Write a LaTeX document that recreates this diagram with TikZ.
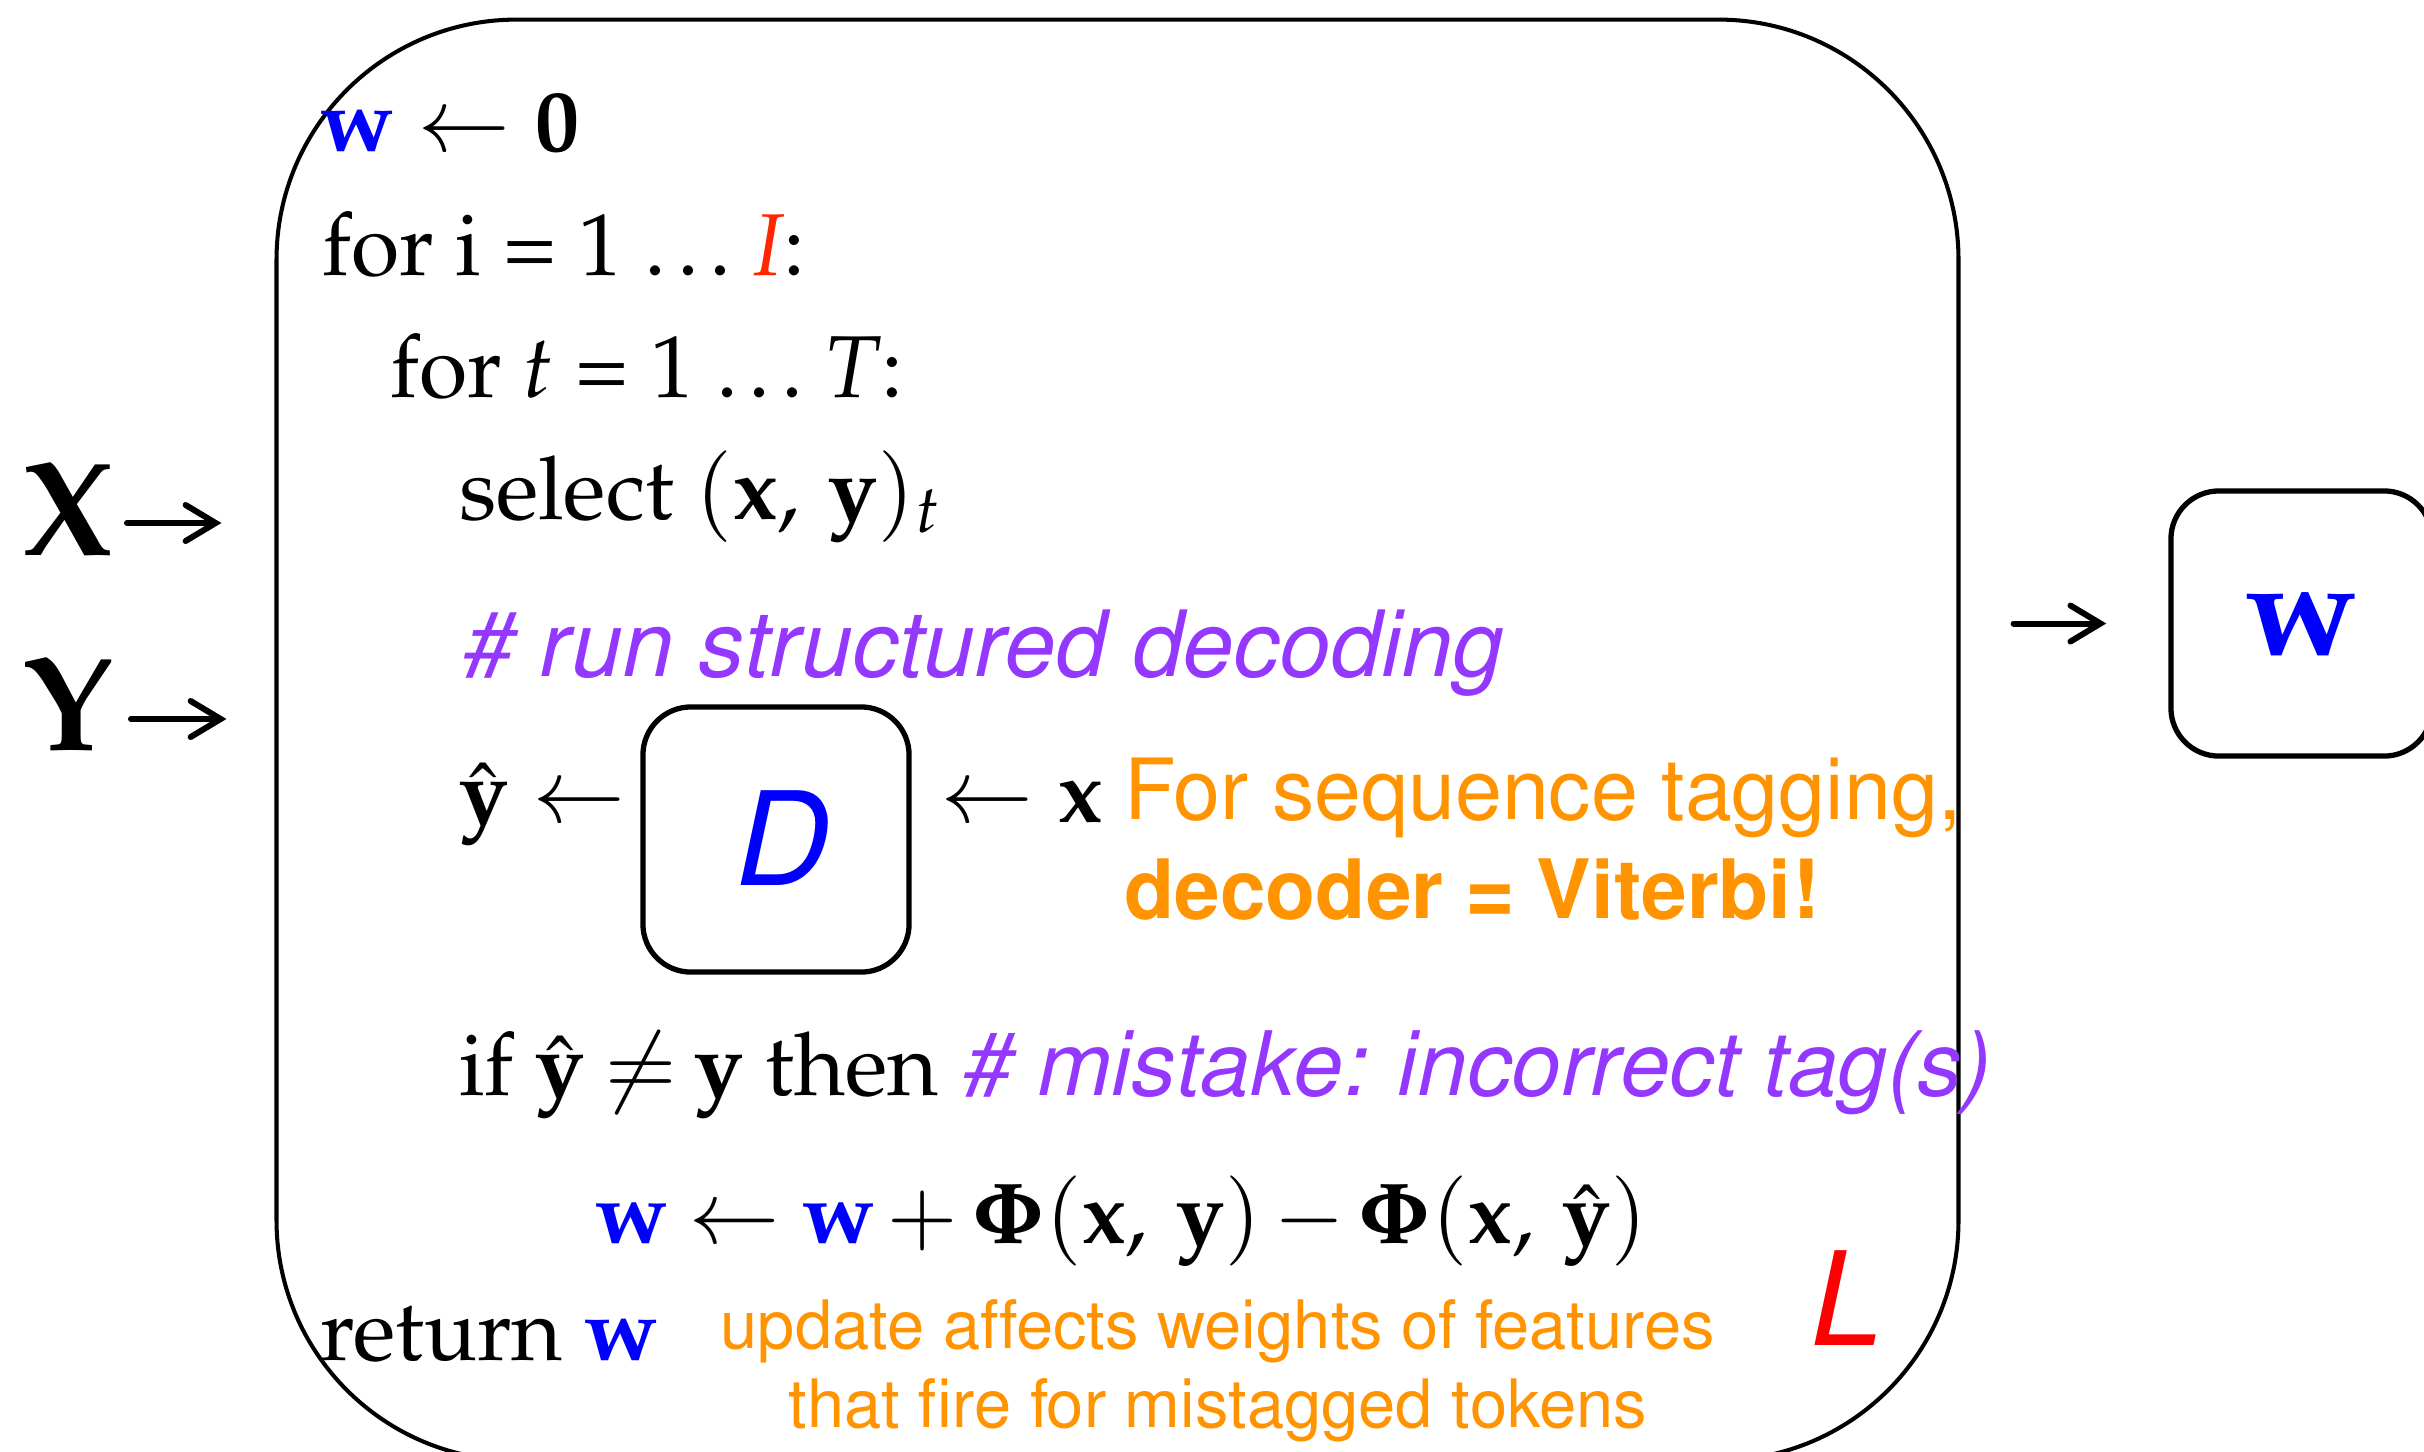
\documentclass[tikz,border=0pt]{standalone}
\usepackage[T1]{fontenc}
\usepackage{mathpazo}
\usepackage{helvet}
\usepackage{amsmath}
\usepackage{bm}
\usetikzlibrary{arrows.meta}
\definecolor{wblue}{RGB}{0,0,255}
\definecolor{ired}{RGB}{255,38,0}
\definecolor{lred}{RGB}{255,0,0}
\definecolor{purp}{RGB}{148,55,255}
\definecolor{orng}{RGB}{255,147,0}
\newcommand{\fsz}[1]{\fontsize{#1}{#1}\selectfont}
\newcommand{\wb}{{\color{wblue}\mathbf{w}}}
\newcommand{\eli}{.\kern0.12em.\kern0.12em.}
\tikzset{
  txt/.style={anchor=base west, inner sep=0pt, outer sep=0pt, font=\fsz{25pt}},
  ptxt/.style={anchor=base west, inner sep=0pt, font=\fsz{26pt}\sffamily\itshape, text=purp},
  otxt/.style={inner sep=0pt, font=\fsz{24pt}\sffamily, text=orng},
  rbox/.style={draw, line width=1.5pt, rounded corners=0.48cm, inner sep=0pt},
  arr/.style={line width=1.7pt, line cap=round, -{Straight Barb[length=0.3cm,width=0.36cm,line cap=round]}},
}
\begin{document}
\begin{tikzpicture}[x=0.01cm,y=-0.01cm]
\useasboundingbox (0,0) rectangle (2424,1451);
\clip (0,0) rectangle (2424,1451);
% main learner box
\node[draw, line width=1.15pt, rounded corners=2.4cm, minimum width=16.81cm, minimum height=14.4cm, inner sep=0pt] (learner) at (1117.5,740) {};
% algorithm lines
\node[txt] (l1) at (320,151) {$\wb \leftarrow \mathbf{0}$};
\node[txt] (l2) at (322,275) {for i = 1 \eli\ \textit{\color{ired}I}:};
\node[txt] (l3) at (390,397) {for \textit{t} = 1 \eli\ \textit{T}:};
\node[txt] (l4) at (459,519) {select $(\mathbf{x},\,\mathbf{y})_t$};
\node[ptxt] (l5) at (459,676) {\# run structured decoding};
\node[txt] (yhat) at (459,822) {$\hat{\mathbf{y}} \leftarrow$};
\node[rbox, minimum width=2.66cm, minimum height=2.65cm, font=\fsz{37pt}\sffamily\itshape, text=wblue] (dec) at (776,839.5) {D};
\node[txt] (xin) at (940,822) {$\leftarrow \mathbf{x}$};
\node[otxt, anchor=base west] (o1) at (1124,819) {For sequence tagging,};
\node[otxt, anchor=base west, font=\fsz{23.3pt}\sffamily\bfseries] (o2) at (1124,918) {decoder = Viterbi!};
\node[txt] (l7) at (459,1095) {if $\hat{\mathbf{y}}\mskip3.5mu{\neq}\mskip3.5mu\mathbf{y}$ then};
\node[ptxt, font=\fsz{25.3pt}\sffamily\itshape] (l7c) at (959,1095) {\# mistake: incorrect tag(s)};
\node[txt, font=\fsz{24.6pt}] (l8) at (595,1243) {$\medmuskip=2.5mu\thickmuskip=4.5mu\wb \leftarrow \wb + \bm{\Phi}(\mathbf{x},\,\mathbf{y}) - \bm{\Phi}(\mathbf{x},\,\hat{\mathbf{y}})$};
\node[txt] (l9) at (320,1360) {return $\wb$};
\node[otxt, anchor=base, font=\fsz{19pt}\sffamily] (u1) at (1218,1348) {update affects weights of features};
\node[otxt, anchor=base, font=\fsz{19pt}\sffamily] (u2) at (1218,1427) {that fire for mistagged tokens};
\node[anchor=base, inner sep=0pt, font=\fsz{37pt}\sffamily\itshape, text=lred] (Lbl) at (1841,1345) {L};
% inputs
\node[anchor=base west, inner sep=0pt, font=\fsz{38pt}\bfseries] (X) at (23,555) {X};
\node[anchor=base west, inner sep=0pt, font=\fsz{38pt}\bfseries] (Y) at (23,750) {Y};
\coordinate (xa) at (127,523);
\coordinate (ya) at (131,719);
\draw[arr, shorten >=0.53cm] (xa) -- (xa -| learner.west);
\draw[arr, shorten >=0.48cm] (ya) -- (ya -| learner.west);
% output
\node[rbox, minimum width=2.61cm, minimum height=2.65cm, font=\fsz{38pt}\bfseries, text=wblue] (wout) at (2301.5,623.5) {w};
\draw[arr, shorten <=0.53cm, shorten >=0.62cm] (learner.east |- wout.west) -- (wout.west);
\end{tikzpicture}
\end{document}
